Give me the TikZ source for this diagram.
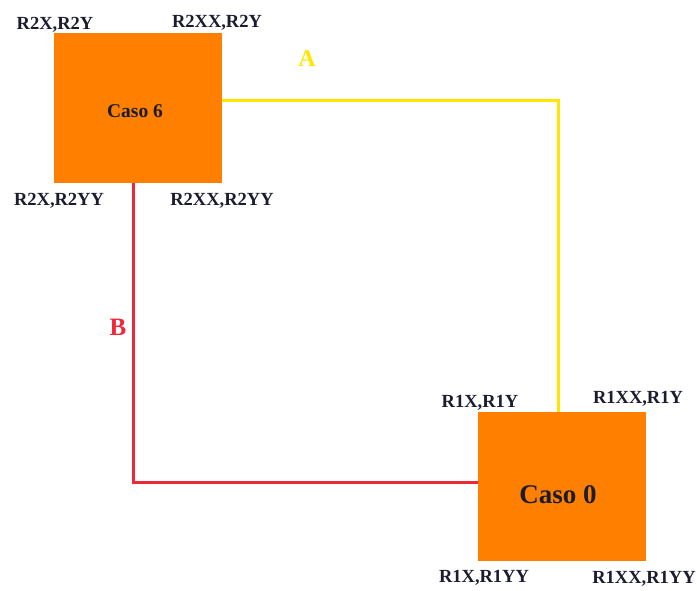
\documentclass[tikz,border=0pt]{standalone}
\usepackage{fontspec}
\setmainfont{Liberation Serif}
\usepackage{xcolor}
\usetikzlibrary{positioning}
\definecolor{casoorange}{HTML}{FF7F00}
\definecolor{ruta_a}{HTML}{FFE600}
\definecolor{ruta_b}{HTML}{EE2838}
\definecolor{etiq}{HTML}{1C1C30}
\tikzset{
  caso/.style={
    rectangle, fill=casoorange, draw=none,
    minimum width=168pt, inner sep=0pt
  },
  esq/.style={anchor=base, text=etiq, font=\fontsize{18.5}{20}\selectfont\bfseries},
  linea/.style={line width=3pt, line join=miter}
}
\begin{document}
\begin{tikzpicture}[x=1pt, y=-1pt]
  \useasboundingbox (0,0) rectangle (697,590);
  % cajas
  \node[caso, minimum height=150pt] (c6) at (138,108) {};
  \node[caso, minimum height=149pt] (c0) at (562,486.5) {};
  \node[anchor=base, text=etiq, font=\fontsize{19.5}{21}\selectfont\bfseries] (t6) at (135,117) {Caso 6};
  \node[anchor=base, text=etiq, font=\fontsize{27}{29}\selectfont\bfseries] (t0) at (558,503) {Caso 0};

  % esquinas
  \node[esq] (r2a) at (55,29)   {R2X,R2Y};
  \node[esq] (r2b) at (217,27)  {R2XX,R2Y};
  \node[esq] (r2c) at (59,205)  {R2X,R2YY};
  \node[esq] (r2d) at (222,205) {R2XX,R2YY};
  \node[esq] (r1a) at (480,407) {R1X,R1Y};
  \node[esq] (r1b) at (638,403) {R1XX,R1Y};
  \node[esq] (r1c) at (484,582) {R1X,R1YY};
  \node[esq] (r1d) at (644,583) {R1XX,R1YY};

  % rutas
  \coordinate (ka) at (558,100);
  \coordinate (kb) at (133,482);
  \draw[linea, ruta_a] (c6.east |- ka) -- (ka) -- (ka |- c0.north);
  \draw[linea, ruta_b] (kb |- c6.south) -- (kb) -- (kb -| c0.west);
  \node[anchor=base, text=ruta_a, font=\fontsize{24}{26}\selectfont\bfseries] (la) at (307,66) {A};
  \node[anchor=base, text=ruta_b, font=\fontsize{25}{27}\selectfont\bfseries] (lb) at (118,335) {B};
\end{tikzpicture}
\end{document}
